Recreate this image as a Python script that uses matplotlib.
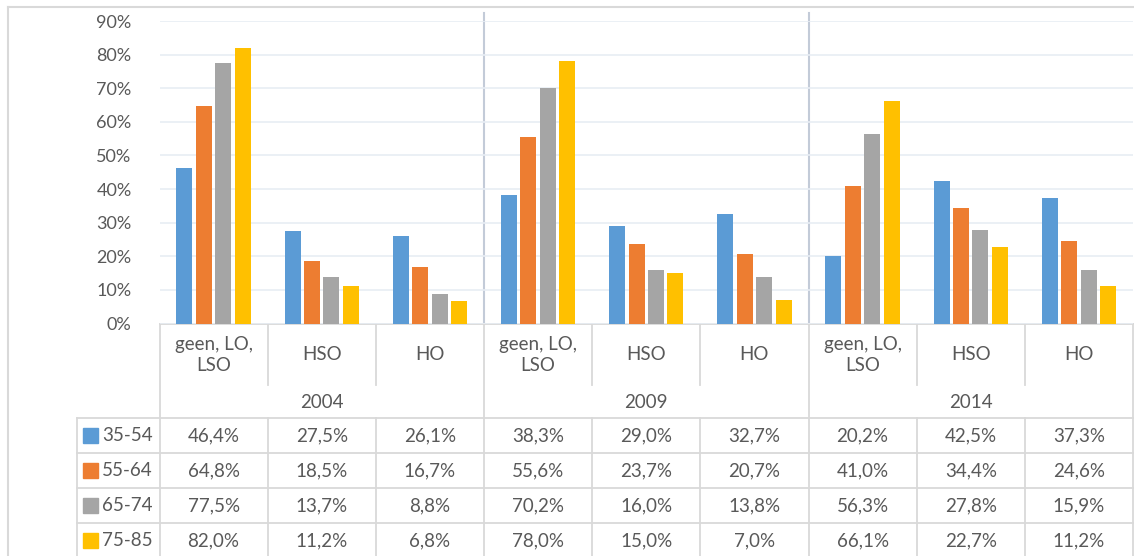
import matplotlib
matplotlib.use("Agg")
import matplotlib.pyplot as plt
import numpy as np

# ---- data ----
years = ["2004", "2009", "2014"]
education = ["geen, LO,\nLSO", "HSO", "HO"]
series_names = ["35-54", "55-64", "65-74", "75-85"]
s_35_54 = [46.4, 27.5, 26.1, 38.3, 29.0, 32.7, 20.2, 42.5, 37.3]
s_55_64 = [64.8, 18.5, 16.7, 55.6, 23.7, 20.7, 41.0, 34.4, 24.6]
s_65_74 = [77.5, 13.7, 8.8, 70.2, 16.0, 13.8, 56.3, 27.8, 15.9]
s_75_85 = [82.0, 11.2, 6.8, 78.0, 15.0, 7.0, 66.1, 22.7, 11.2]
yticks = [0, 10, 20, 30, 40, 50, 60, 70, 80, 90]

series = [s_35_54, s_55_64, s_65_74, s_75_85]
colors = ["#5B9BD5", "#ED7D31", "#A5A5A5", "#FFC000"]
txt = "#595959"
grid_c = "#E8EDF4"
line_c = "#D9D9D9"
FONT = "Lato"
FS_TICK = 13
FS_TAB = 13.5

W, H = 1134, 556
fig = plt.figure(figsize=(W / 100, H / 100), dpi=100)

def fx(px):
    return px / W

def fy(py):
    return 1 - py / H

# plot area pixel geometry
L, R, T, B = 159.5, 1133.0, 21.0, 323.5
ax = fig.add_axes([fx(L), fy(B), fx(R) - fx(L), (B - T) / H])
ncat = len(s_35_54)
x = np.arange(ncat)
pitch = 0.18
bw = 0.148
for i, (vals, c) in enumerate(zip(series, colors)):
    ax.bar(x + (i - 1.5) * pitch, vals, width=bw, color=c, zorder=3)
ax.set_xlim(-0.5, ncat - 0.5)
ax.set_ylim(0, 90)
ax.set_yticks(yticks)
ax.set_yticklabels([f"{v}%" for v in yticks], fontsize=FS_TICK, color=txt, family=FONT)
ax.tick_params(axis="y", length=0, pad=20)
ax.set_xticks([])
ax.yaxis.grid(True, color=grid_c, lw=1.2, zorder=0)
for s in ax.spines.values():
    s.set_visible(False)
ax.patch.set_alpha(0)

# overlay axes in pixel coordinates for table and frame
ov = fig.add_axes([0, 0, 1, 1], zorder=-1)
ov.set_xlim(0, W)
ov.set_ylim(H, 0)
ov.axis("off")

# outer frame
ov.plot([8, W], [7, 7], color=line_c, lw=1.5)
ov.plot([8, 8], [7, H], color=line_c, lw=1.5)

cat_w = (R - L) / ncat
grp_edges = [L + k * 3 * cat_w for k in range(4)]

# separators in plot area
for xe in grp_edges[1:3]:
    ov.plot([xe, xe], [13, B], color="#C3CBD8", lw=1.5)

# table geometry
row_top = 418.0
row_h = 35.0
leg_left = 76.5
ov.plot([L, W], [B, B], color=line_c, lw=1.3)
for k in range(5):
    yy = row_top + k * row_h
    ov.plot([leg_left, W], [yy, yy], color=line_c, lw=1.3)
ov.plot([leg_left, leg_left], [row_top, H], color=line_c, lw=1.3)
for xe in grp_edges:
    ov.plot([xe, xe], [B, H], color=line_c, lw=1.3)
for k in range(1, ncat):
    if k % 3 != 0:
        xe = L + k * cat_w
        ov.plot([xe, xe], [B, 385], color=line_c, lw=1.3)
        ov.plot([xe, xe], [row_top, H], color=line_c, lw=1.3)

# category labels
for k in range(ncat):
    cx = L + (k + 0.5) * cat_w
    ov.text(cx, 355, education[k % 3], ha="center", va="center", fontsize=FS_TAB,
            color=txt, family=FONT, linespacing=1.35)
# year labels
for g, yr in enumerate(years):
    cx = L + (g * 3 + 1.5) * cat_w
    ov.text(cx, 402, yr, ha="center", va="center", fontsize=FS_TAB, color=txt, family=FONT)

# data rows
for r, (name, vals, c) in enumerate(zip(series_names, series, colors)):
    cy = row_top + (r + 0.5) * row_h
    ov.add_patch(plt.Rectangle((83, cy - 7.5), 15, 15, color=c))
    ov.text(102, cy, name, ha="left", va="center", fontsize=FS_TAB, color=txt, family=FONT)
    for k, v in enumerate(vals):
        cx = L + (k + 0.5) * cat_w
        ov.text(cx, cy, f"{v:.1f}%".replace(".", ","), ha="center", va="center",
                fontsize=FS_TAB, color=txt, family=FONT)

fig.savefig("out.png", dpi=100)
